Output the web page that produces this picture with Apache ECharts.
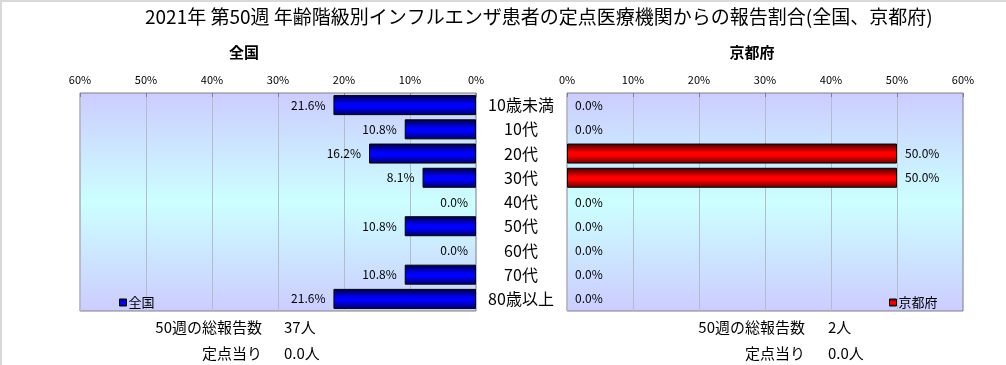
<!DOCTYPE html>
<html>
<head>
<meta charset="utf-8">
<script src="https://cdn.jsdelivr.net/npm/echarts@6/dist/echarts.min.js"></script>
<style>
html,body{margin:0;padding:0;background:#fff;}
#c{width:1006px;height:365px;}
</style>
</head>
<body>
<div id="c"></div>
<script>
var titleText = '2021年 第50週 年齢階級別インフルエンザ患者の定点医療機関からの報告割合(全国、京都府)';
var categories = ['10歳未満','10代','20代','30代','40代','50代','60代','70代','80歳以上'];
var nationalValues = [21.6, 10.8, 16.2, 8.1, 0.0, 10.8, 0.0, 10.8, 21.6];
var kyotoValues = [0.0, 0.0, 50.0, 50.0, 0.0, 0.0, 0.0, 0.0, 0.0];
var panelNames = ['全国', '京都府'];
var summaryLabels = ['50週の総報告数', '定点当り'];
var nationalSummary = ['37人', '0.0人'];
var kyotoSummary = ['2人', '0.0人'];

var FONT = "'Noto Sans CJK JP', 'Noto Sans', sans-serif";
var chart = echarts.init(document.getElementById('c'), null, {renderer:'canvas'});

function bgGrad(){
  return new echarts.graphic.LinearGradient(0,0,0,1,[
    {offset:0,color:'#CCCCFF'},{offset:0.5,color:'#CCFFFF'},{offset:1,color:'#CCCCFF'}]);
}
function barGrad(dark, bright, dark2){
  return new echarts.graphic.LinearGradient(0,0,0,1,[
    {offset:0,color:dark},{offset:0.45,color:bright},{offset:0.6,color:bright},{offset:1,color:dark2}]);
}
function barData(values){
  return values.map(function(v){
    return v === 0 ? {value:v, itemStyle:{borderWidth:0, opacity:0}} : v;
  });
}
var gridCommon = {top:93, height:218, width:396, show:true, borderColor:'#808080', borderWidth:1};
function xAx(idx, inverse){
  return {
    gridIndex: idx, type:'value', min:0, max:60, interval:10, inverse:inverse, position:'top',
    axisLabel:{formatter:'{value}%', fontSize:11, color:'#000', margin:8, fontFamily:FONT},
    axisLine:{show:false},
    axisTick:{show:true, inside:true, length:4, lineStyle:{color:'#808080'}},
    splitLine:{show:true, lineStyle:{color:'#B4BCCC', width:1}}
  };
}
function summaryGraphics(rightX, valX, vals){
  var out = [];
  var ys = [327, 353];
  for (var i=0;i<summaryLabels.length;i++){
    out.push({type:'text', x:rightX, y:ys[i], style:{text:summaryLabels[i], fontSize:15, fontFamily:FONT, fill:'#000', textAlign:'right', textVerticalAlign:'middle'}});
    out.push({type:'text', x:valX, y:ys[i], style:{text:vals[i], fontSize:15, fontFamily:FONT, fill:'#000', textAlign:'left', textVerticalAlign:'middle'}});
  }
  return out;
}
var labelFmt = function(p){ return Number(p.value).toFixed(1) + '%'; };
var labelStyle = {show:true, distance:8, formatter:labelFmt, fontSize:12, color:'#000', opacity:1, fontFamily:FONT};

var option = {
  backgroundColor:'#fff',
  textStyle:{fontFamily:FONT},
  animation:false,
  title:{text:titleText, left:145, top:7, padding:0, textStyle:{fontSize:19, fontWeight:'normal', color:'#000', fontFamily:FONT}},
  legend:[
    {data:[panelNames[0]], left:114, top:291, icon:'rect', itemWidth:7, itemHeight:7,
      textStyle:{fontSize:13, color:'#000', fontFamily:FONT, padding:[0,0,0,-3]},
      itemStyle:{borderColor:'#000', borderWidth:1, opacity:1}},
    {data:[panelNames[1]], left:884, top:291, icon:'rect', itemWidth:7, itemHeight:7,
      textStyle:{fontSize:13, color:'#000', fontFamily:FONT, padding:[0,0,0,-3]},
      itemStyle:{borderColor:'#000', borderWidth:1, opacity:1}}
  ],
  grid:[
    Object.assign({left:80, backgroundColor:bgGrad()}, gridCommon),
    Object.assign({left:567, backgroundColor:bgGrad()}, gridCommon)
  ],
  xAxis:[xAx(0,true), xAx(1,false)],
  yAxis:[
    {gridIndex:0, type:'category', data:categories, inverse:true, position:'right',
      axisLine:{show:false}, axisTick:{show:false},
      axisLabel:{align:'center', margin:45, fontSize:16, color:'#000', fontFamily:FONT}},
    {gridIndex:1, type:'category', data:categories, inverse:true, position:'left',
      axisLine:{show:false}, axisTick:{show:false}, axisLabel:{show:false}}
  ],
  series:[
    {name:panelNames[0], type:'bar', xAxisIndex:0, yAxisIndex:0, data:barData(nationalValues), barWidth:20,
      itemStyle:{color:barGrad('#000040','#0000FF','#000060'), borderColor:'#000', borderWidth:1},
      label:Object.assign({position:'left'}, labelStyle)},
    {name:panelNames[1], type:'bar', xAxisIndex:1, yAxisIndex:1, data:barData(kyotoValues), barWidth:20,
      itemStyle:{color:barGrad('#400000','#FF0000','#600000'), borderColor:'#000', borderWidth:1},
      label:Object.assign({position:'right'}, labelStyle)}
  ],
  graphic:[
    {type:'line', shape:{x1:0,y1:1,x2:1006,y2:1}, style:{stroke:'#D9D9D9', lineWidth:2}, silent:true},
    {type:'line', shape:{x1:1,y1:0,x2:1,y2:365}, style:{stroke:'#D9D9D9', lineWidth:2}, silent:true},
    {type:'text', x:244, y:52, style:{text:panelNames[0], fontSize:15, fontWeight:'bold', fontFamily:FONT, fill:'#000', textAlign:'center', textVerticalAlign:'middle'}},
    {type:'text', x:752, y:52, style:{text:panelNames[1], fontSize:15, fontWeight:'bold', fontFamily:FONT, fill:'#000', textAlign:'center', textVerticalAlign:'middle'}}
  ].concat(summaryGraphics(262, 284, nationalSummary)).concat(summaryGraphics(805, 828, kyotoSummary))
};
chart.setOption(option);
</script>
</body>
</html>
